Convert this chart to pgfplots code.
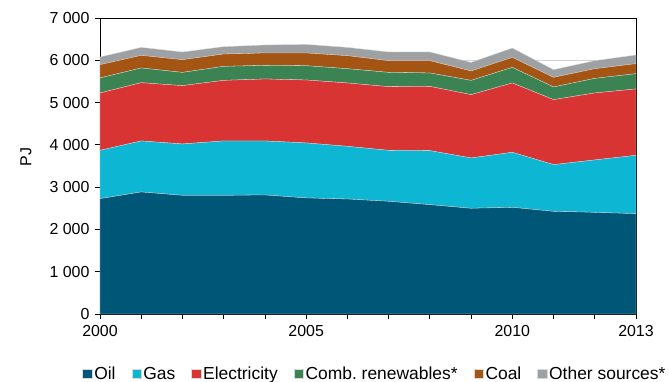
\documentclass[border=0pt]{standalone}
\usepackage{pgfplots}
\usepackage{pgfplotstable}
\pgfplotsset{compat=1.18}
\usepackage{fontspec}
\setmainfont{Liberation Sans}
\frenchspacing

\definecolor{oilc}{HTML}{005677}
\definecolor{gasc}{HTML}{0DB7D3}
\definecolor{elec}{HTML}{D83434}
\definecolor{renc}{HTML}{3C8354}
\definecolor{coalc}{HTML}{A45413}
\definecolor{othc}{HTML}{9EA1A4}

% PJ by source
\pgfplotstableread{
year oil  gas  elec ren coal other
2000 2728 1142 1357 355 314 182
2001 2886 1206 1378 348 298 189
2002 2806 1215 1379 314 300 182
2003 2806 1286 1433 331 293 173
2004 2815 1277 1466 322 293 189
2005 2745 1300 1489 338 301 203
2006 2720 1245 1498 338 308 196
2007 2665 1205 1506 338 277 205
2008 2586 1277 1520 317 291 205
2009 2500 1190 1497 338 222 203
2010 2523 1300 1640 369 237 221
2011 2428 1104 1537 300 227 182
2012 2404 1239 1584 345 229 190
2013 2373 1379 1570 361 237 205
}\datatable

\begin{document}
\begin{tikzpicture}
\begin{axis}[
    name=ax,
    scale only axis,
    width=536bp, height=296bp,
    xmin=2000, xmax=2013,
    ymin=0, ymax=7000,
    xtick={2000,2005,2010,2013},
    minor xtick={2001,2002,2003,2004,2006,2007,2008,2009,2011,2012},
    ytick={0,1000,...,7000},
    tick align=outside,
    major tick length=5bp, minor tick length=5bp,
    xtick pos=bottom, ytick pos=left,
    x tick label style={yshift=-3bp, /pgf/number format/.cd, 1000 sep={}, assume math mode=true},
    y tick label style={xshift=-2bp, /pgf/number format/.cd, 1000 sep={\ }, assume math mode=true},
    tick label style={font=\fontsize{16}{18}\selectfont},
    every tick/.style={black, line width=0.8pt},
    minor tick style={black, line width=0.8pt},
    axis line style={line width=1pt},
    ymajorgrids, grid style={gray!35, line width=0.8pt},
    ylabel={PJ},
    every axis y label/.style={at={([xshift=-74bp,yshift=9bp]rel axis cs:0,0.5)},
        rotate=90, anchor=center, font=\fontsize{16}{18}\selectfont},
    stack plots=y,
    area style,
    axis on top=false,
    legend style={at={(0.513,-0.203)}, anchor=center, draw=none, legend columns=-1,
        font=\fontsize{17.5}{20}\selectfont,
        /tikz/every even column/.append style={column sep=14bp},
        /tikz/every node/.append style={inner xsep=2bp}},
    legend image code/.code={\fill[#1] (0bp,-4.5bp) rectangle (9.5bp,5bp);},
]
\addplot[fill=oilc, draw=white!70!gray, line width=0.3pt] table[x=year,y=oil] {\datatable} \closedcycle;
\addplot[fill=gasc, draw=white!70!gray, line width=0.3pt] table[x=year,y=gas] {\datatable} \closedcycle;
\addplot[fill=elec, draw=white!70!gray, line width=0.3pt] table[x=year,y=elec] {\datatable} \closedcycle;
\addplot[fill=renc, draw=white!70!gray, line width=0.3pt] table[x=year,y=ren] {\datatable} \closedcycle;
\addplot[fill=coalc, draw=white!70!gray, line width=0.3pt] table[x=year,y=coal] {\datatable} \closedcycle;
\addplot[fill=othc, draw=white!70!gray, line width=0.3pt] table[x=year,y=other] {\datatable} \closedcycle;
\legend{Oil, Gas, Electricity, Comb. renewables*, Coal, Other sources*}
% redraw the frame over the areas
\draw[line width=1pt] (rel axis cs:0,0) rectangle (rel axis cs:1,1);
\end{axis}
\pgfresetboundingbox
\path[use as bounding box] ([xshift=-100bp,yshift=-68bp]ax.south west) rectangle ([xshift=33bp,yshift=18bp]ax.north east);
\end{tikzpicture}
\end{document}
